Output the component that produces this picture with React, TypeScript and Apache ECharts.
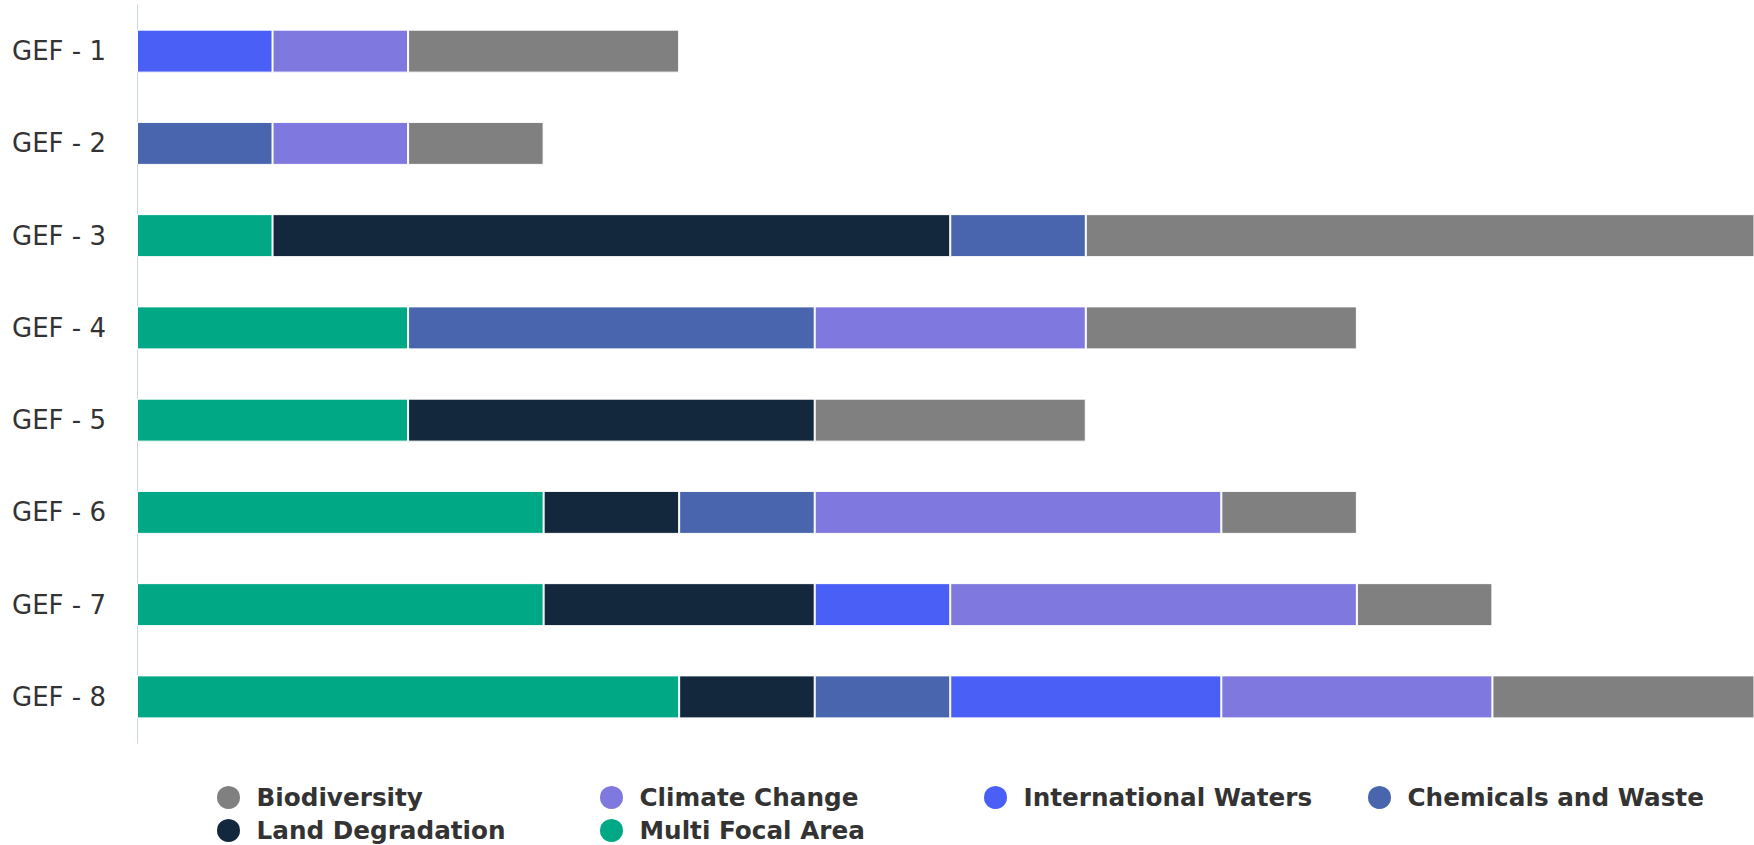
import React, { useEffect, useRef } from "react";
import * as echarts from "echarts";

const categories = ["GEF - 1", "GEF - 2", "GEF - 3", "GEF - 4", "GEF - 5", "GEF - 6", "GEF - 7", "GEF - 8"];

// stacked from left to right
const multiFocalArea = [0, 0, 1, 2, 2, 3, 3, 4];
const landDegradation = [0, 0, 5, 0, 3, 1, 2, 1];
const chemicalsWaste = [0, 1, 1, 3, 0, 1, 0, 1];
const internationalWaters = [1, 0, 0, 0, 0, 0, 1, 2];
const climateChange = [1, 1, 0, 2, 0, 3, 3, 2];
const biodiversity = [2, 1, 5, 2, 2, 1, 1, 2];

const seriesDefs = [
  { name: "Multi Focal Area", data: multiFocalArea, color: "#00a886" },
  { name: "Land Degradation", data: landDegradation, color: "#14283d" },
  { name: "Chemicals and Waste", data: chemicalsWaste, color: "#4865ae" },
  { name: "International Waters", data: internationalWaters, color: "#4a5ff6" },
  { name: "Climate Change", data: climateChange, color: "#7f78de" },
  { name: "Biodiversity", data: biodiversity, color: "#808080" },
];

const legendColumns = [
  ["Biodiversity", "Land Degradation"],
  ["Climate Change", "Multi Focal Area"],
  ["International Waters"],
  ["Chemicals and Waste"],
];
const legendLefts = [215, 598, 982, 1366];

export default function App() {
  const ref = useRef<HTMLDivElement>(null);
  useEffect(() => {
    document.body.style.margin = "0";
    if (!ref.current) return;
    const chart = echarts.init(ref.current, null, { renderer: "svg" });
    chart.setOption({
      animation: false,
      backgroundColor: "#ffffff",
      grid: { left: 137, right: 0, top: 5, bottom: 102, containLabel: false },
      xAxis: {
        type: "value",
        min: 0,
        max: 11.93,
        show: false,
        splitLine: { show: false },
      },
      yAxis: {
        type: "category",
        data: categories,
        inverse: true,
        axisLine: { show: true, lineStyle: { color: "#ccd6eb", width: 1 } },
        axisTick: { show: false },
        axisLabel: {
          margin: 31,
          fontFamily: "DejaVu Sans",
          fontSize: 26,
          color: "#333333",
        },
        splitLine: { show: false },
      },
      legend: legendColumns.map((names, i) => ({
        data: names,
        orient: "vertical",
        left: legendLefts[i],
        top: 784,
        height: 60,
        padding: 0,
        icon: "circle",
        itemWidth: 46,
        itemHeight: 25,
        itemGap: 6,
        textStyle: {
          fontFamily: "DejaVu Sans",
          fontWeight: "bold",
          fontSize: 24.7,
          lineHeight: 25,
          color: "#333333",
        },
      })),
      series: seriesDefs.map((s) => ({
        name: s.name,
        type: "bar",
        stack: "total",
        barWidth: 43,
        data: s.data.map((v) => (v === 0 ? null : v)),
        itemStyle: { color: s.color, borderColor: "#ffffff", borderWidth: 1 },
      })),
    });
    return () => chart.dispose();
  }, []);
  return (
    <div
      ref={ref}
      style={{ position: "fixed", left: 0, top: 0, width: 1754, height: 845, overflow: "hidden" }}
    />
  );
}
